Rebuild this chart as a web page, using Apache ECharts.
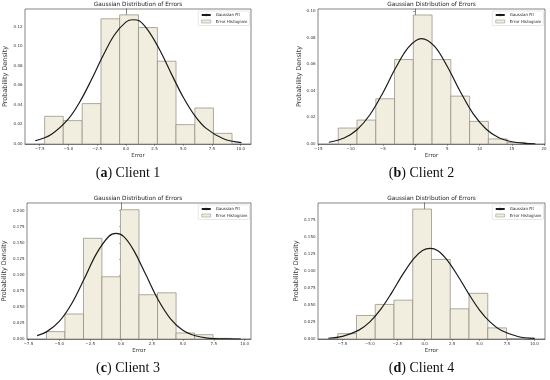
<!DOCTYPE html>
<html><head><meta charset="utf-8">
<script src="https://cdn.jsdelivr.net/npm/echarts@6/dist/echarts.min.js"></script>
<style>html,body{margin:0;padding:0;background:#fff}#c{width:550px;height:380px}</style>
</head><body><div id="c"></div>
<script>
// ---------- data ----------
const panelTitle = 'Gaussian Distribution of Errors';
const captionLetters = ['a', 'b', 'c', 'd'];
const captionNames = ['Client 1', 'Client 2', 'Client 3', 'Client 4'];

// histogram bin edges and densities
const binEdges1 = [-7.07, -5.45, -3.80, -2.16, -0.54, 1.10, 2.75, 4.37, 6.01, 7.63, 9.25];
const density1  = [0.0283, 0.0239, 0.0413, 0.128, 0.132, 0.119, 0.0846, 0.0198, 0.0368, 0.0109];
const binEdges2 = [-11.91, -9.0, -6.09, -3.18, -0.27, 2.64, 5.55, 8.46, 11.37, 14.28, 17.19];
const density2  = [0.012, 0.018, 0.034, 0.0635, 0.097, 0.0635, 0.036, 0.017, 0.0038, 0.0012];
const binEdges3 = [-6.04, -4.54, -3.04, -1.55, -0.05, 1.45, 2.95, 4.45, 5.94, 7.44, 8.94];
const density3  = [0.0115, 0.039, 0.157, 0.097, 0.2015, 0.069, 0.072, 0.0094, 0.0068, 0.001];
const binEdges4 = [-7.93, -6.22, -4.51, -2.80, -1.09, 0.62, 2.33, 4.04, 5.75, 7.46, 9.17];
const density4  = [0.0079, 0.0345, 0.0507, 0.057, 0.1906, 0.1167, 0.0443, 0.067, 0.0163, 0];

// gaussian fit curves
const curveX1 = [-7.89, -6.5, -5, -4, -3, -2, -1, 0, 0.6, 1.2, 2, 3, 4, 5, 6, 7, 8.5, 10.07];
const curveY1 = [0.0033, 0.0098, 0.0257, 0.0432, 0.0656, 0.0899, 0.1114, 0.1246, 0.127, 0.1257, 0.1151, 0.0951, 0.0709, 0.0478, 0.0291, 0.0160, 0.0054, 0.0014];
const curveX2 = [-13.37, -11, -9, -7, -5, -3, -1, 1, 3, 5, 7, 9, 11, 13, 15, 17, 18.65];
const curveY2 = [0.0013, 0.0045, 0.0107, 0.0220, 0.0384, 0.0573, 0.0729, 0.0793, 0.0736, 0.0583, 0.0395, 0.0228, 0.0113, 0.0047, 0.0017, 0.0005, 0.0002];
const curveX3 = [-6.79, -6, -5, -4, -3, -2, -1, -0.4, 0.2, 1, 2, 3, 4, 5, 6, 7, 8.5, 9.69];
const curveY3 = [0.0052, 0.0115, 0.0274, 0.0550, 0.0930, 0.1327, 0.1598, 0.1646, 0.1600, 0.1390, 0.1004, 0.0612, 0.0315, 0.0136, 0.0050, 0.0015, 0.0002, 0.00003];
const curveX4 = [-8.79, -7.5, -6, -5, -4, -3, -2, -1, -0.2, 0.5, 1.2, 2, 3, 4, 5, 6, 7, 8.5, 10.03];
const curveY4 = [0.0011, 0.0039, 0.0130, 0.0252, 0.0438, 0.0681, 0.0948, 0.1180, 0.1298, 0.133, 0.1296, 0.1168, 0.0932, 0.0666, 0.0425, 0.0243, 0.0124, 0.0037, 0.0008];

// tick values
const xTicks1 = [-7.5, -5, -2.5, 0, 2.5, 5, 7.5, 10];
const xTicks2 = [-15, -10, -5, 0, 5, 10, 15, 20];
const xTicks3 = [-7.5, -5, -2.5, 0, 2.5, 5, 7.5, 10];
const xTicks4 = [-7.5, -5, -2.5, 0, 2.5, 5, 7.5, 10];
const yTicks1 = [0, 0.02, 0.04, 0.06, 0.08, 0.10, 0.12];
const yTicks2 = [0, 0.02, 0.04, 0.06, 0.08, 0.10];
const yTicks3 = [0, 0.025, 0.05, 0.075, 0.1, 0.125, 0.15, 0.175, 0.2];
const yTicks4 = [0, 0.025, 0.05, 0.075, 0.1, 0.125, 0.15, 0.175];

// ---------- layout / style ----------
const edges = [binEdges1, binEdges2, binEdges3, binEdges4];
const dens = [density1, density2, density3, density4];
const cx = [curveX1, curveX2, curveX3, curveX4];
const cy = [curveY1, curveY2, curveY3, curveY4];
const xt = [xTicks1, xTicks2, xTicks3, xTicks4];
const yt = [yTicks1, yTicks2, yTicks3, yTicks4];
const xDec = [1, 0, 1, 1];
const yDec = [2, 2, 3, 3];
const xRange = [[-8.78, 10.9], [-15.05, 20.15], [-7.61, 10.51], [-9.73, 10.97]];
const yMax = [0.138, 0.1015, 0.212, 0.1995];
const grids = [
  {left: 25, top: 9, width: 226, height: 135},
  {left: 318, top: 9, width: 227, height: 135},
  {left: 25, top: 203, width: 226, height: 136},
  {left: 318, top: 203, width: 227, height: 136}
];
const yNameGap = [16, 15, 19, 18];
const FONT = 'DejaVu Sans';
const SERIF = 'Liberation Serif';
const fmtNum = (v, d) => (v < 0 ? '\u2212' : '') + Math.abs(v).toFixed(d);
const barFill = '#f2eedf', barEdge = '#8c887c';

const option = {
  animation: false,
  backgroundColor: '#fff',
  textStyle: {fontFamily: FONT},
  grid: grids.map(g => Object.assign({show: true, borderColor: '#333', borderWidth: 0.6, backgroundColor: 'transparent'}, g)),
  title: [],
  legend: [],
  xAxis: [], yAxis: [], series: []
};

for (let i = 0; i < 4; i++) {
  const g = grids[i];
  option.title.push({
    text: panelTitle, left: g.left + g.width / 2, top: g.top - 8, textAlign: 'center', padding: 0,
    textStyle: {fontSize: 5.8, fontWeight: 'normal', color: '#222', fontFamily: FONT}
  });
  option.title.push({
    text: '{n|(}{b|' + captionLetters[i] + '}{n|) ' + captionNames[i] + '}',
    left: g.left + g.width / 2 - 10, top: g.top + g.height + 22, textAlign: 'center', padding: 0,
    textStyle: {fontSize: 14, fontWeight: 'normal', color: '#111', fontFamily: SERIF,
      rich: {
        n: {fontSize: 14, fontWeight: 'normal', color: '#111', fontFamily: SERIF},
        b: {fontSize: 14, fontWeight: 'bold', color: '#111', fontFamily: SERIF}
      }}
  });
  option.legend.push({
    orient: 'vertical', right: 550 - (g.left + g.width) + 1.5, top: g.top + 2,
    itemWidth: 9, itemHeight: 3, itemGap: 2.5, padding: [2, 2, 2, 2.5],
    borderColor: '#d0d0d0', borderWidth: 0.5, borderRadius: 1, backgroundColor: 'rgba(255,255,255,0.85)',
    textStyle: {fontSize: 4, color: '#222', fontFamily: FONT},
    data: [
      {name: 'Gaussian Fit'},
      {name: 'Error Histogram', icon: 'rect', itemStyle: {color: barFill, borderColor: barEdge, borderWidth: 0.5}}
    ]
  });
  option.xAxis.push({
    gridIndex: i, type: 'value', min: xRange[i][0], max: xRange[i][1],
    name: 'Error', nameLocation: 'middle', nameGap: 9,
    nameTextStyle: {fontSize: 5.5, color: '#333', fontFamily: FONT},
    axisLine: {show: true, lineStyle: {color: '#333', width: 0.6}},
    axisTick: {show: true, length: 1.8, customValues: xt[i], lineStyle: {color: '#333', width: 0.5}},
    axisLabel: {fontSize: 4, color: '#333', margin: 2.5, customValues: xt[i], formatter: v => fmtNum(v, xDec[i])},
    splitLine: {show: false}
  });
  option.yAxis.push({
    gridIndex: i, type: 'value', min: 0, max: yMax[i],
    name: 'Probability Density', nameLocation: 'middle', nameGap: yNameGap[i],
    nameTextStyle: {fontSize: 6.5, color: '#333', fontFamily: FONT},
    axisLine: {show: true, lineStyle: {color: '#333', width: 0.6}},
    axisTick: {show: true, length: 1.8, customValues: yt[i], lineStyle: {color: '#333', width: 0.5}},
    axisLabel: {fontSize: 4, color: '#333', margin: 2.5, customValues: yt[i], formatter: v => fmtNum(v, yDec[i])},
    splitLine: {show: false}
  });
  const barData = dens[i].map((d, k) => [edges[i][k], edges[i][k + 1], d]);
  option.series.push({
    type: 'custom', name: 'Error Histogram', xAxisIndex: i, yAxisIndex: i,
    itemStyle: {color: barFill, borderColor: barEdge, borderWidth: 0.7},
    encode: {x: [0, 1], y: 2},
    data: barData,
    renderItem: (params, api) => {
      const p0 = api.coord([api.value(0), api.value(2)]);
      const p1 = api.coord([api.value(1), 0]);
      return {type: 'rect', shape: {x: p0[0], y: p0[1], width: p1[0] - p0[0], height: p1[1] - p0[1]},
        style: {fill: barFill, stroke: barEdge, lineWidth: 0.7}};
    },
    z: 1
  });
  option.series.push({
    type: 'line', name: 'Gaussian Fit', xAxisIndex: i, yAxisIndex: i,
    data: cx[i].map((x, k) => [x, cy[i][k]]),
    smooth: 0.35, symbol: 'none', showSymbol: false,
    lineStyle: {color: '#1a1a1a', width: 1.2}, itemStyle: {color: '#1a1a1a'},
    z: 3
  });
}

const chart = echarts.init(document.getElementById('c'), null, {renderer: 'canvas'});
chart.setOption(option);
</script></body></html>
